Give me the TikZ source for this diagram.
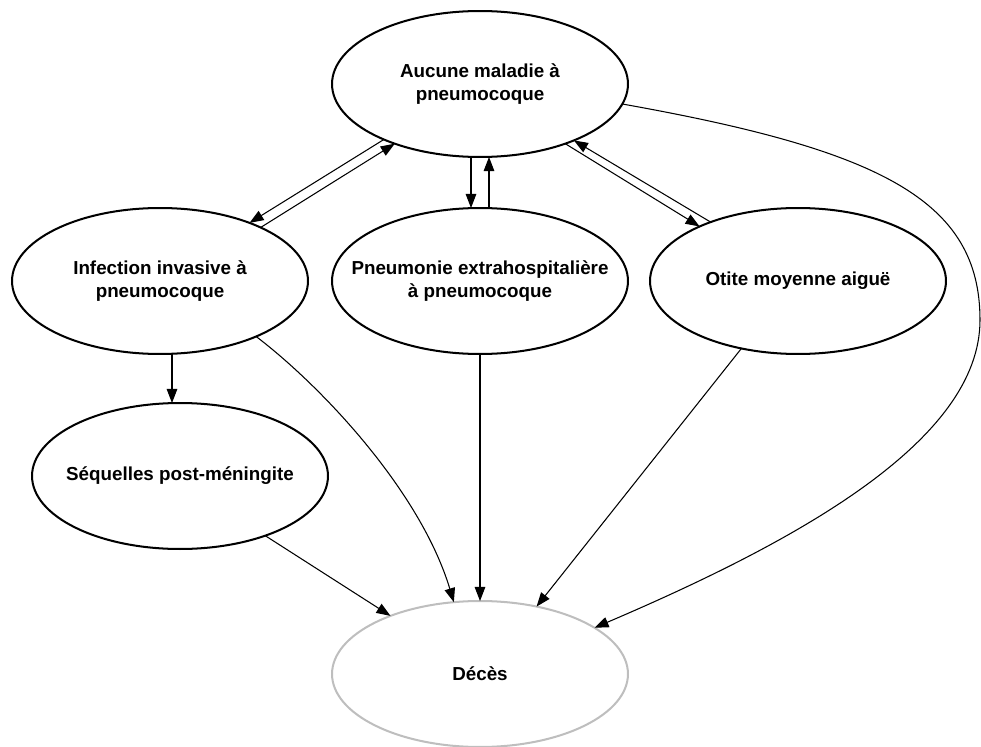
\documentclass[tikz,border=0pt]{standalone}
\usepackage{fontspec}
\setmainfont{Liberation Sans}
\usetikzlibrary{shapes.geometric,arrows.meta,calc}
\definecolor{decesgray}{RGB}{190,190,190}
\tikzset{
  state/.style={ellipse, draw=black, line width=1.15pt, minimum width=5.92cm, minimum height=2.92cm,
    inner sep=0pt, outer sep=0pt},
  statetext/.style={align=center, font=\fontsize{10.7}{12.6}\selectfont\bfseries, inner sep=0pt},
  finalstate/.style={state, draw=decesgray},
  conn/.style={line width=0.6pt, -{Triangle[length=8pt,width=6pt]}}
}
\begin{document}
\begin{tikzpicture}[x=0.02cm,y=-0.02cm]
\useasboundingbox (0,0) rectangle (981,747);
\node[state, label={[statetext]center:Aucune maladie à\\pneumocoque}] (T) at (480,84) {};
\node[state, label={[statetext]center:Infection invasive à\\pneumocoque}] (L) at (160,281) {};
\node[state, label={[statetext]center:Pneumonie extrahospitalière\\à pneumocoque}] (M) at (480,281) {};
\node[state, label={[statetext]center:Otite moyenne aiguë}] (R) at (798,281) {};
\node[state, label={[statetext]center:Séquelles post-méningite}] (S) at (180,476) {};
\node[finalstate, label={[statetext]center:Décès}] (D) at (480,674) {};

% top <-> left
\draw[conn] (T.210) -- (L.33);
\draw[conn] (L.28.8) -- (T.215);
% top <-> middle
\draw[conn] ($(T.south)+(-9,0)$) -- ($(M.north)+(-9,0)$);
\draw[conn] ($(M.north)+(9,0)$) -- ($(T.south)+(9,0)$);
% top <-> right
\draw[conn] (T.325.9) -- (R.151.6);
\draw[conn] (R.146.8) -- (T.329.9);
% top -> deces (long curve)
\coordinate (c1) at (980,320);
\draw[conn] (T.352) .. controls (880,150) and (980,200) .. (c1)
  .. controls (980,440) and (800,540) .. (D.22.2);
% left -> sequelles
\draw[conn] ($(L.south)+(12,0)$) -- ($(S.north)+(-8,0)$);
% left -> deces
\draw[conn] (L.330.8) .. controls (320,385) and (420,490) .. (D.110.5);
% sequelles -> deces
\draw[conn] (S.325.2) -- (D.147.7);
% middle -> deces
\draw[conn] (M.south) -- (D.north);
% right -> deces
\draw[conn] (R.230) -- (D.50.6);
\end{tikzpicture}
\end{document}
